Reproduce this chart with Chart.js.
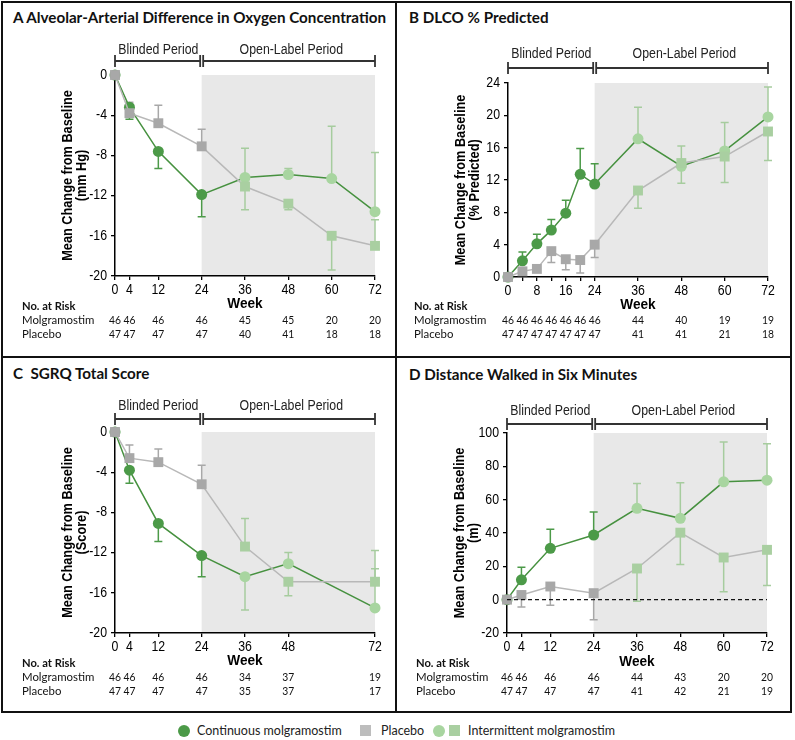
<!DOCTYPE html>
<html>
<head>
<meta charset="utf-8">
<script src="https://cdn.jsdelivr.net/npm/chart.js@4.4.1/dist/chart.umd.min.js"></script>
<style>
  body { margin: 0; background: #fff; }
  #fig { position: relative; width: 795px; height: 740px; overflow: hidden; font-family: Lato, 'Open Sans', sans-serif; color: #111; }
  .rule { position: absolute; background: #111; }
  .title { position: absolute; font-weight: bold; font-size: 15.2px; white-space: nowrap; line-height: 1; }
  canvas { position: absolute; }
  .lg { position: absolute; font-size: 12.5px; color: #222; line-height: 1; white-space: nowrap; }
  .dot { position: absolute; width: 12px; height: 12px; border-radius: 50%; }
  .sq { position: absolute; width: 11px; height: 11px; }
</style>
</head>
<body>
<div id="fig">
  <div class="rule" style="left:1px;top:1px;width:791px;height:2px"></div>
  <div class="rule" style="left:1px;top:711px;width:791px;height:2px"></div>
  <div class="rule" style="left:1px;top:1px;width:2px;height:712px"></div>
  <div class="rule" style="left:790px;top:1px;width:2px;height:712px"></div>
  <div class="rule" style="left:395px;top:1px;width:2px;height:712px"></div>
  <div class="rule" style="left:1px;top:356px;width:791px;height:2px"></div>

  <div class="title" style="left:13px;top:10px">A Alveolar-Arterial Difference in Oxygen Concentration</div>
  <div class="title" style="left:409px;top:10px">B DLCO % Predicted</div>
  <div class="title" style="left:13px;top:366px">C&nbsp; SGRQ Total Score</div>
  <div class="title" style="left:409px;top:367px">D Distance Walked in Six Minutes</div>

  <canvas id="chartA"></canvas>
  <canvas id="chartB"></canvas>
  <canvas id="chartC"></canvas>
  <canvas id="chartD"></canvas>

  <div class="dot" style="left:178px;top:725px;background:#4c9a48"></div>
  <div class="lg" style="left:197px;top:725px">Continuous molgramostim</div>
  <div class="sq" style="left:360px;top:725px;background:#bdbdbd"></div>
  <div class="lg" style="left:381px;top:725px">Placebo</div>
  <div class="dot" style="left:433px;top:725px;background:#a8d5a0"></div>
  <div class="sq" style="left:449px;top:725px;background:#a9cfa1"></div>
  <div class="lg" style="left:468px;top:725px">Intermittent molgramostim</div>
</div>

<script>
// Panel A - alveolar-arterial difference (mm Hg)
const weeksA = [0, 4, 12, 24, 36, 48, 60, 72];
const molA = [0, -3.2, -7.6, -11.9, -10.2, -9.9, -10.3, -13.6];
const molErrA = [null, -4.4, -9.3, -14.1, -7.3, -9.3, -5.1, -7.7];
const plaA = [0, -3.8, -4.8, -7.1, -11.1, -12.8, -16.0, -17.0];
const plaErrA = [null, -2.7, -3.0, -5.4, -13.4, -13.4, -19.4, -14.4];
const molRiskA = [46, 46, 46, 46, 45, 45, 20, 20];
const plaRiskA = [47, 47, 47, 47, 40, 41, 18, 18];

// Panel B - DLCO % predicted
const weeksB = [0, 4, 8, 12, 16, 20, 24, 36, 48, 60, 72];
const labelWeeksB = [0, 8, 16, 24, 36, 48, 60, 72];
const molB = [0, 2.0, 4.1, 5.8, 7.9, 12.7, 11.5, 17.1, 13.7, 15.6, 19.8];
const molErrB = [null, 3.1, 5.3, 7.1, 9.5, 15.9, 14.0, 21.0, 11.6, 19.1, 23.5];
const plaB = [0, 0.7, 1.0, 3.2, 2.2, 2.1, 4.0, 10.7, 14.1, 14.9, 18.0];
const plaErrB = [null, null, null, 1.8, 0.9, 0.5, 2.4, 8.5, 16.2, 11.7, 14.4];
const molRiskB = [46, 46, 46, 46, 46, 46, 46, 44, 40, 19, 19];
const plaRiskB = [47, 47, 47, 47, 47, 47, 47, 41, 41, 21, 18];

// Panel C - SGRQ total score
const weeksC = [0, 4, 12, 24, 36, 48, 72];
const molC = [0, -3.8, -9.1, -12.3, -14.4, -13.1, -17.5];
const molErrC = [null, -5.1, -10.9, -14.4, -17.7, -12.0, -13.6];
const plaC = [0, -2.6, -3.0, -5.2, -11.4, -14.9, -14.9];
const plaErrC = [null, -1.3, -1.7, -3.3, -8.6, -16.3, -11.8];
const molRiskC = [46, 46, 46, 46, 34, 37, 19];
const plaRiskC = [47, 47, 47, 47, 35, 37, 17];

// Panel D - six-minute walk distance (m)
const weeksD = [0, 4, 12, 24, 36, 48, 60, 72];
const molD = [0, 11.9, 30.8, 38.8, 54.8, 48.8, 70.7, 71.7];
const molErrD = [null, 19.5, 42.2, 52.6, 69.7, 70.1, 94.6, 93.6];
const plaD = [0, 2.8, 7.9, 3.9, 18.7, 40.2, 25.3, 29.9];
const plaErrD = [null, -4.4, -3.4, -12.1, -1.0, 21.1, 4.7, 8.5];
const molRiskD = [46, 46, 46, 46, 44, 43, 20, 20];
const plaRiskD = [47, 47, 47, 47, 41, 42, 21, 19];

const DARK = '#4c9a48', DARK_LINE = '#46913f';
const LIGHT = '#a8d5a0', LIGHT_SQ = '#a9cfa1', LIGHT_BAR = '#a6cc9e';
const GRAY = '#a8a8a8', GRAY_LINE = '#b8b8b8';
const SHADE = '#e8e8e8';
const ARIAL = "'Liberation Sans', Arial, sans-serif";
const CAL = "Lato, 'Open Sans', sans-serif";

function pts(weeks, vals) {
    return weeks.map((w, i) => ({ x: w, y: vals[i] }));
}

// draw text squeezed horizontally (the original uses a condensed face)
function squeezed(ctx, text, x, y, font, align, sx, rot) {
    ctx.save();
    ctx.translate(x, y);
    if (rot) ctx.rotate(rot);
    ctx.scale(sx, 1);
    ctx.font = font;
    ctx.textAlign = align;
    ctx.textBaseline = 'middle';
    ctx.fillText(text, 0, 0);
    ctx.restore();
}

function makePanel(p) {
    const cv = document.getElementById(p.id);
    const box = p.box;
    cv.width = box.w; cv.height = box.h;
    cv.style.left = box.x + 'px';
    cv.style.top = box.y + 'px';
    const Y_W = 62, X_H = 30;
    const pad = {
        left: p.area.l - box.x - Y_W,
        top: p.area.t - box.y,
        right: box.x + box.w - p.area.r,
        bottom: box.y + box.h - p.area.b - X_H
    };
    const py = v => v - box.y;
    const px = v => v - box.x;
    const labelWeeks = p.labelWeeks || p.weeks;
    const NS = 0.88, NB = 0.91;

    const extras = {
        id: 'extras',
        beforeDraw(chart) {
            const { ctx, chartArea: a, scales: { x } } = chart;
            ctx.save();
            ctx.fillStyle = SHADE;
            const x0 = x.getPixelForValue(24);
            ctx.fillRect(x0, a.top, x.getPixelForValue(72) - x0, a.bottom - a.top);
            ctx.restore();
        },
        beforeDatasetsDraw(chart) {
            const { ctx, scales: { x, y } } = chart;
            const bars = (vals, errs, base, light) => {
                p.weeks.forEach((w, i) => {
                    if (errs[i] == null) return;
                    const cx = x.getPixelForValue(w);
                    const y0 = y.getPixelForValue(vals[i]);
                    const y1 = y.getPixelForValue(errs[i]);
                    ctx.strokeStyle = w > 24 ? light : base;
                    ctx.lineWidth = 1.5;
                    ctx.beginPath();
                    ctx.moveTo(cx, y0); ctx.lineTo(cx, y1);
                    ctx.moveTo(cx - 4, y1); ctx.lineTo(cx + 4, y1);
                    ctx.stroke();
                });
            };
            ctx.save();
            bars(p.pla, p.plaErr, GRAY, LIGHT_BAR);
            bars(p.mol, p.molErr, DARK, LIGHT_BAR);
            ctx.restore();
        },
        afterDraw(chart) {
            const { ctx, chartArea: a, scales: { x, y } } = chart;
            const x0 = x.getPixelForValue(0), x24 = x.getPixelForValue(24), x72 = x.getPixelForValue(72);
            const by = py(p.bracketY);
            ctx.save();
            // period bracket
            ctx.strokeStyle = '#333';
            ctx.lineWidth = 1.8;
            ctx.beginPath();
            ctx.moveTo(x0, by); ctx.lineTo(x24 - 1.5, by);
            ctx.moveTo(x24 + 1.5, by); ctx.lineTo(x72, by);
            [x0, x24 - 1.5, x24 + 1.5, x72].forEach(bx => {
                ctx.moveTo(bx, by - 6); ctx.lineTo(bx, by + 6);
            });
            ctx.stroke();
            ctx.fillStyle = '#222';
            squeezed(ctx, 'Blinded Period', (x0 + x24) / 2, py(p.bracketTextY), '14px ' + ARIAL, 'center', NS);
            squeezed(ctx, 'Open-Label Period', (x24 + x72) / 2 + 3, py(p.bracketTextY), '14px ' + ARIAL, 'center', NS);

            // tick labels
            ctx.fillStyle = '#000';
            y.ticks.forEach(t => {
                squeezed(ctx, String(t.value), a.left - 8, y.getPixelForValue(t.value), '14px ' + ARIAL, 'right', NS);
            });
            labelWeeks.forEach(w => {
                squeezed(ctx, String(w), x.getPixelForValue(w), a.bottom + 14, '14px ' + ARIAL, 'center', NS);
            });

            // axis titles
            squeezed(ctx, 'Week', (x0 + x72) / 2, py(p.weekY), 'bold 15px ' + ARIAL, 'center', NB);
            const cy = (a.top + a.bottom) / 2;
            squeezed(ctx, p.yTitle[0], a.left - 47, cy, 'bold 14px ' + ARIAL, 'center', NB, -Math.PI / 2);
            squeezed(ctx, p.yTitle[1], a.left - 33, cy, 'bold 14px ' + ARIAL, 'center', NB, -Math.PI / 2);

            // number at risk
            ctx.fillStyle = '#111';
            squeezed(ctx, 'No. at Risk', px(p.riskX), py(p.riskY[0]), 'bold 12px ' + CAL, 'left', 0.93);
            squeezed(ctx, 'Molgramostim', px(p.riskX), py(p.riskY[1]), '12px ' + CAL, 'left', 0.95);
            squeezed(ctx, 'Placebo', px(p.riskX), py(p.riskY[2]), '12px ' + CAL, 'left', 0.95);
            p.weeks.forEach((w, i) => {
                const cx = x.getPixelForValue(w);
                squeezed(ctx, String(p.molRisk[i]), cx, py(p.riskY[1]), '12px ' + CAL, 'center', 0.86);
                squeezed(ctx, String(p.plaRisk[i]), cx, py(p.riskY[2]), '12px ' + CAL, 'center', 0.86);
            });
            ctx.restore();
        }
    };

    const datasets = [];
    if (p.zeroLine) {
        datasets.push({
            data: [{ x: 0, y: 0 }, { x: 72, y: 0 }],
            borderColor: '#111', borderWidth: 1.3, borderDash: [4, 3],
            pointRadius: 0, clip: false
        });
    }
    datasets.push({
        label: 'Placebo',
        data: pts(p.weeks, p.pla),
        borderColor: GRAY_LINE, borderWidth: 1.5,
        pointStyle: 'rect', pointRadius: 7,
        pointBackgroundColor: p.weeks.map(w => w > 24 ? LIGHT_SQ : GRAY),
        pointBorderWidth: 0, clip: false
    });
    datasets.push({
        label: 'Molgramostim',
        data: pts(p.weeks, p.mol),
        borderColor: DARK_LINE, borderWidth: 1.5,
        pointStyle: 'circle', pointRadius: 5.5,
        pointBackgroundColor: p.weeks.map(w => w > 24 ? LIGHT : DARK),
        pointBorderWidth: 0, clip: false
    });

    const axisGrid = { drawOnChartArea: false, drawTicks: true, tickLength: 4, color: '#000', lineWidth: 1.3 };
    const axisBorder = { display: true, color: '#000', width: 1.5 };

    new Chart(cv, {
        type: 'line',
        data: { datasets },
        options: {
            responsive: false,
            animation: false,
            devicePixelRatio: 1,
            events: [],
            layout: { padding: pad },
            plugins: { legend: { display: false }, tooltip: { enabled: false } },
            scales: {
                x: {
                    type: 'linear', min: 0, max: 72,
                    afterBuildTicks: s => { s.ticks = p.weeks.map(v => ({ value: v })); },
                    afterFit: s => { s.height = X_H; },
                    grid: axisGrid, border: axisBorder,
                    ticks: { display: false, autoSkip: false }
                },
                y: {
                    min: p.yMin, max: p.yMax,
                    afterFit: s => { s.width = Y_W; },
                    grid: axisGrid, border: axisBorder,
                    ticks: { display: false, stepSize: p.yStep }
                }
            }
        },
        plugins: [extras]
    });
}

makePanel({
    id: 'chartA', box: { x: 4, y: 4, w: 390, h: 351 },
    area: { l: 115, r: 375, t: 75, b: 276 },
    weeks: weeksA, mol: molA, molErr: molErrA, pla: plaA, plaErr: plaErrA,
    molRisk: molRiskA, plaRisk: plaRiskA,
    yMin: -20, yMax: 0, yStep: 4, yTitle: ['Mean Change from Baseline', '(mm Hg)'],
    bracketY: 61, bracketTextY: 50, weekY: 304, riskX: 22, riskY: [306, 320, 334]
});

makePanel({
    id: 'chartB', box: { x: 398, y: 4, w: 391, h: 351 },
    area: { l: 508, r: 768, t: 83, b: 277 },
    weeks: weeksB, labelWeeks: labelWeeksB, mol: molB, molErr: molErrB, pla: plaB, plaErr: plaErrB,
    molRisk: molRiskB, plaRisk: plaRiskB,
    yMin: 0, yMax: 24, yStep: 4, yTitle: ['Mean Change from Baseline', '(% Predicted)'],
    bracketY: 68, bracketTextY: 54, weekY: 305, riskX: 414, riskY: [306, 320, 334]
});

makePanel({
    id: 'chartC', box: { x: 4, y: 359, w: 390, h: 351 },
    area: { l: 115, r: 375, t: 432, b: 633 },
    weeks: weeksC, mol: molC, molErr: molErrC, pla: plaC, plaErr: plaErrC,
    molRisk: molRiskC, plaRisk: plaRiskC,
    yMin: -20, yMax: 0, yStep: 4, yTitle: ['Mean Change from Baseline', '(Score)'],
    bracketY: 419, bracketTextY: 406, weekY: 661, riskX: 22, riskY: [663, 677, 691]
});

makePanel({
    id: 'chartD', box: { x: 398, y: 359, w: 391, h: 351 },
    area: { l: 507, r: 767, t: 433, b: 633 },
    weeks: weeksD, mol: molD, molErr: molErrD, pla: plaD, plaErr: plaErrD,
    molRisk: molRiskD, plaRisk: plaRiskD, zeroLine: true,
    yMin: -20, yMax: 100, yStep: 20, yTitle: ['Mean Change from Baseline', '(m)'],
    bracketY: 424, bracketTextY: 411, weekY: 662, riskX: 416, riskY: [663, 677, 691]
});
</script>
</body>
</html>
